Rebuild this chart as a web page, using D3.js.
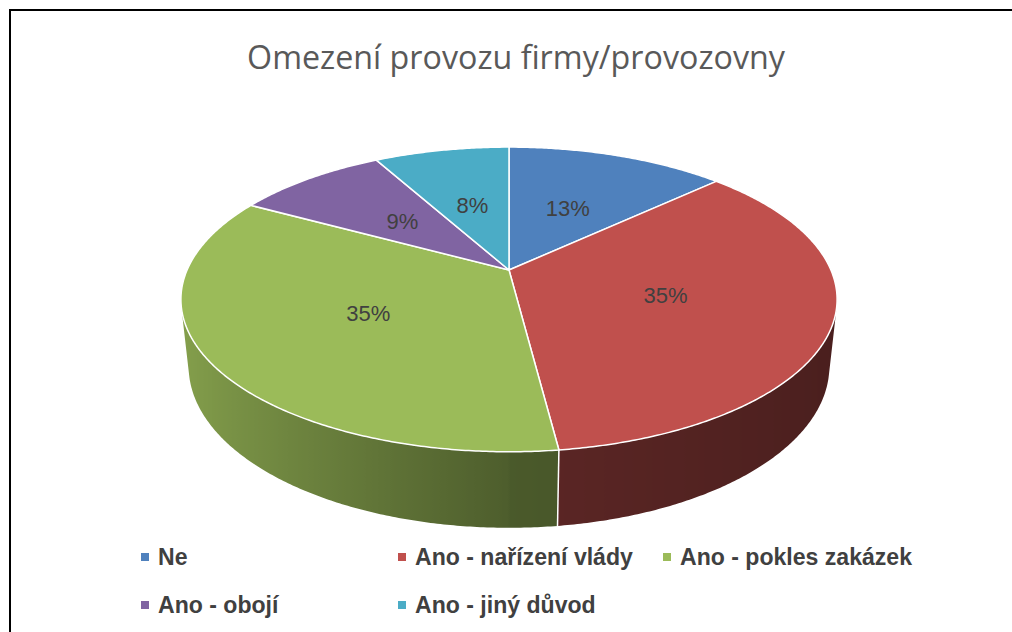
<!DOCTYPE html>
<html>
<head>
<meta charset="utf-8">
<script src="https://cdn.jsdelivr.net/npm/d3@7"></script>
<style>
  html, body { margin: 0; padding: 0; background: #fff; }
  svg { display: block; }
</style>
</head>
<body>
<svg id="chart" width="1012" height="632"></svg>
<script>
const title = 'Omezení provozu firmy/provozovny'
const categories = ['Ne', 'Ano - nařízení vlády', 'Ano - pokles zakázek', 'Ano - obojí', 'Ano - jiný důvod']
const values = [13, 35, 35, 9, 8]
const colors = ['#4f81bd', '#c0504d', '#9bbb59', '#8064a2', '#4bacc6']

const W = 1012, H = 632
const svg = d3.select('#chart')
const defs = svg.append('defs')

// 3d camera (perspective, tilt)
const cam = { cx: 509, cy: 270, tilt: 27.1 * Math.PI / 180, dist: 4.61, focal: 1484, depth: 0.235 }

function project(theta, r, y) {
  const X = r * Math.sin(theta), Z = r * Math.cos(theta)
  const ca = Math.cos(cam.tilt), sa = Math.sin(cam.tilt)
  const yc = y * ca + Z * sa
  const zc = cam.dist + Z * ca - y * sa
  return [cam.cx + cam.focal * X / zc, cam.cy - cam.focal * yc / zc]
}

const color = d3.scaleOrdinal(categories, colors)
const arcs = d3.pie().sort(null).value(d => d.value)(categories.map((c, i) => ({ name: c, value: values[i] })))
const total = d3.sum(values)
const line = d3.line()

// frame (only top and left edges visible in the crop)
svg.append('path')
  .attr('d', `M10,${H} L10,10 L${W},10`)
  .attr('fill', 'none').attr('stroke', '#000').attr('stroke-width', 2)

// title
const titleText = svg.append('text')
  .attr('x', 516).attr('y', 69)
  .attr('text-anchor', 'middle')
  .attr('font-family', 'Open Sans, sans-serif')
  .attr('font-size', 100)
  .attr('fill', '#595959')
  .text(title)
titleText.attr('font-size', 100 * 538 / titleText.node().getComputedTextLength())

// side wall, one path per slice with a horizontal gradient
const sideG = svg.append('g')
const step = Math.PI / 360
const limit = -1 / (cam.dist * Math.cos(cam.tilt))
const visible = t => Math.cos(t) < limit
const visFrom = Math.acos(limit), visTo = 2 * Math.PI - Math.acos(limit)
function shade(base, t) {
  const x = Math.sin(t)
  const f = x < 0 ? 0.5 - 0.37 * x : 0.48 - 0.1 * x
  const c = d3.rgb(base)
  return d3.rgb(c.r * f, c.g * f, c.b * f).formatHex()
}
arcs.forEach((a, i) => {
  const t0 = Math.max(a.startAngle, visFrom), t1 = Math.min(a.endAngle, visTo)
  if (t1 <= t0) return
  const n = Math.max(2, Math.ceil((t1 - t0) / step))
  const ts = d3.range(n + 1).map(k => t0 + (t1 - t0) * k / n)
  const topPts = ts.map(t => project(t, 1, 0))
  const botPts = ts.map(t => project(t, 1, -cam.depth)).reverse()
  const xs = topPts.map(p => p[0])
  const x0 = d3.min(xs), x1 = d3.max(xs)
  const grad = defs.append('linearGradient')
    .attr('id', 'side' + i)
    .attr('gradientUnits', 'userSpaceOnUse')
    .attr('x1', x0).attr('y1', 0).attr('x2', x1).attr('y2', 0)
  const stops = ts.map((t, k) => ({ off: (xs[k] - x0) / (x1 - x0), c: shade(color(a.data.name), t) }))
    .sort((p, q) => p.off - q.off)
  grad.selectAll('stop').data(stops).join('stop')
    .attr('offset', d => d.off)
    .attr('stop-color', d => d.c)
  sideG.append('path')
    .attr('d', line(topPts.concat(botPts)) + 'Z')
    .attr('fill', `url(#side${i})`)
})
// slice borders on the side wall
arcs.forEach(a => {
  if (visible(a.startAngle) && a.startAngle > 0) {
    sideG.append('path')
      .attr('d', line([project(a.startAngle, 1, 0), project(a.startAngle, 1, -cam.depth)]))
      .attr('stroke', '#fff').attr('stroke-width', 1.5)
  }
})

// top face
const topG = svg.append('g')
arcs.forEach(a => {
  const pts = [project(0, 0, 0)]
  const n = Math.max(2, Math.ceil((a.endAngle - a.startAngle) / step))
  for (let i = 0; i <= n; i++) {
    pts.push(project(a.startAngle + (a.endAngle - a.startAngle) * i / n, 1, 0))
  }
  topG.append('path')
    .attr('d', line(pts) + 'Z')
    .attr('fill', color(a.data.name))
    .attr('stroke', '#fff').attr('stroke-width', 1.5)
    .attr('stroke-linejoin', 'round')
})

// data labels
svg.append('g').selectAll('text')
  .data(arcs)
  .join('text')
  .attr('transform', d => {
    const p = project((d.startAngle + d.endAngle) / 2, 0.5, 0)
    return `translate(${p[0]},${p[1]})`
  })
  .attr('text-anchor', 'middle')
  .attr('dominant-baseline', 'central')
  .attr('font-family', 'Liberation Sans Narrow, sans-serif')
  .attr('font-size', 22)
  .attr('fill', '#404040')
  .text(d => Math.round(d.data.value / total * 100) + '%')

// legend
const legendPos = [[141, 557], [398, 557], [663, 557], [141, 605], [398, 605]]
const legend = svg.append('g')
const items = legend.selectAll('g')
  .data(categories)
  .join('g')
  .attr('transform', (d, i) => `translate(${legendPos[i][0]},${legendPos[i][1]})`)
items.append('rect')
  .attr('x', 0).attr('y', -4).attr('width', 8).attr('height', 8)
  .attr('fill', d => color(d))
const legendText = items.append('text')
  .attr('x', 17).attr('y', 0)
  .attr('dominant-baseline', 'central')
  .attr('font-family', 'Liberation Sans Narrow, sans-serif')
  .attr('font-weight', 'bold')
  .attr('font-size', 100)
  .attr('fill', '#404040')
  .text(d => d)
const refW = legendText.filter((d, i) => i === 1).node().getComputedTextLength()
legendText.attr('font-size', 100 * 218 / refW)
</script>
</body>
</html>
